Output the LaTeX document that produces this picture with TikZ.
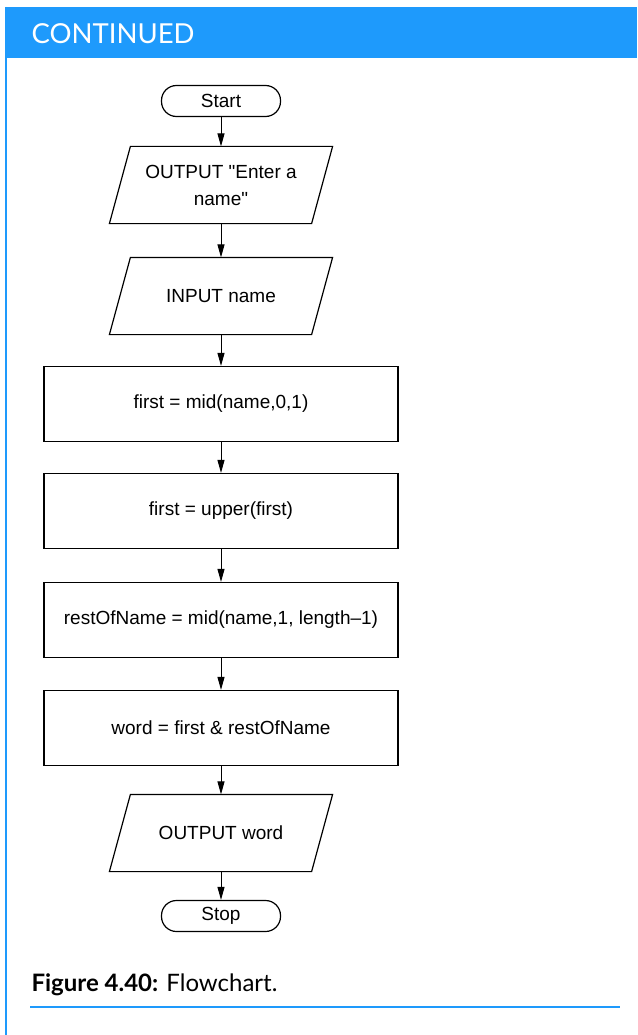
\documentclass[tikz,border=0pt]{standalone}
\usepackage{fontspec}
\newfontfamily\flowfont{Liberation Sans}
\newfontfamily\headfont{Lato}
\usetikzlibrary{arrows.meta}
\definecolor{boxblue}{RGB}{30,154,252}
\tikzset{
  flow/.style={line width=1.2pt,font=\flowfont\fontsize{19}{27}\selectfont,align=center,inner sep=0pt},
  procbox/.style={flow,draw,rectangle,minimum width=354pt,minimum height=75pt},
  iobox/.style={flow,rectangle,minimum width=201pt,minimum height=76pt},
  ioline/.style={line width=1.2pt},
  termbox/.style={flow,draw,rectangle,rounded corners=15pt,minimum width=119pt,minimum height=31pt},
  link/.style={-{Triangle[length=13pt,width=7pt]},line width=1pt}
}
\begin{document}
\begin{tikzpicture}[x=1pt,y=-1pt]
  \useasboundingbox (0,0) rectangle (637,1035);

  %frame
  \fill[boxblue] (5,7) rectangle (637,58);
  \draw[boxblue,line width=2.5pt] (6,7) -- (6,1035);
  \node[anchor=west,text=white,font=\headfont\fontsize{27.5}{32}\selectfont] (head) at (28,34) {CONTINUED};

  %steps
  \node[termbox] (start) at (221,101) {Start};
  \node[iobox] (askname) at (221,185) {OUTPUT "Enter a\\name"};
  \node[iobox] (getname) at (221,296) {INPUT name};
  \node[procbox] (firstch) at (221,404) {first = mid(name,0,1)};
  \node[procbox] (upperch) at (221,511) {first = upper(first)};
  \node[procbox] (rest) at (221,620) {restOfName = mid(name,1, length–1)};
  \node[procbox] (word) at (221,728) {word = first \& restOfName};
  \node[iobox] (showword) at (221,833) {OUTPUT word};
  \node[termbox] (stop) at (221,916) {Stop};

  %parallelograms
  \foreach \io in {askname,getname,showword}
    \draw[ioline] ([xshift=10.5pt]\io.north west) -- ([xshift=10.5pt]\io.north east)
      -- ([xshift=-10.5pt]\io.south east) -- ([xshift=-10.5pt]\io.south west) -- cycle;

  %arrows
  \draw[link] (start) -- (askname);
  \draw[link] (askname) -- (getname);
  \draw[link] (getname) -- (firstch);
  \draw[link] (firstch) -- (upperch);
  \draw[link] (upperch) -- (rest);
  \draw[link] (rest) -- (word);
  \draw[link] (word) -- (showword);
  \draw[link] (showword) -- (stop);

  %caption
  \node[anchor=west,font=\headfont\fontsize{24}{28}\selectfont] (caption) at (28,985) {\textbf{Figure 4.40:} Flowchart.};
  \draw[boxblue,line width=1.5pt] (30,1007) -- (620,1007);
\end{tikzpicture}
\end{document}
